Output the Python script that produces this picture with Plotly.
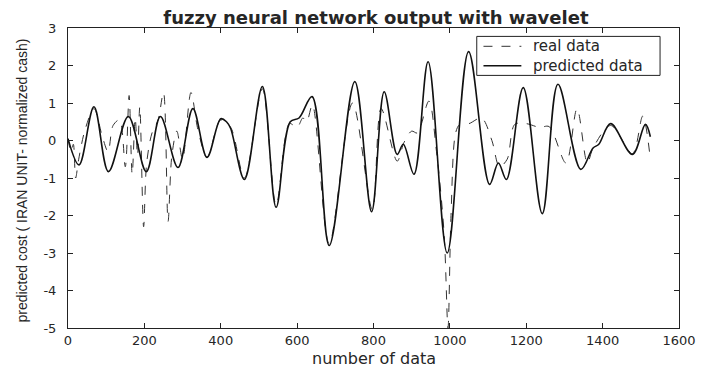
import plotly.graph_objects as go

# ---- data (key points) ----
pred_x = [0, 29, 68, 106, 158, 205, 242, 288, 327, 364, 400, 415, 426, 462, 509, 545,
          582, 605, 639, 684, 751, 795, 828, 862, 878, 906, 943, 993, 1049, 1104, 1127,
          1148, 1192, 1242, 1283, 1343, 1375, 1390, 1421, 1478, 1512, 1525]
pred_y = [0.05, -0.65, 0.9, -0.83, 0.64, -0.83, 0.64, -0.72, 0.85, -0.45, 0.58, 0.5, 0.32,
          -1.04, 1.44, -1.78, 0.5, 0.6, 1.17, -2.8, 1.57, -1.9, 1.3, -0.37, -0.1, -0.9, 2.1,
          -3.0, 2.37, -1.17, -0.6, -1.04, 1.41, -1.95, 1.5, -0.77, -0.2, -0.1, 0.45, -0.37,
          0.43, 0.1]

real_x = [0, 8, 14, 20, 28, 45, 68, 90, 105, 118, 135, 150, 160, 168, 176, 182, 188, 198,
          206, 220, 236, 250, 262, 272, 285, 300, 322, 340, 364, 400, 426, 462, 509, 545,
          580, 600, 615, 625, 640, 684, 745, 797, 820, 862, 880, 900, 915, 945, 965, 985,
          995, 1003, 1015, 1026, 1050, 1083, 1110, 1130, 1150, 1170, 1200, 1235, 1260, 1304,
          1333, 1360, 1375, 1421, 1478, 1505, 1525]
real_y = [0.05, -0.3, -0.1, -1.0, -0.5, 0.3, 0.85, 0.1, -0.3, 0.4, 0.55, -0.7, 1.2, -0.9,
          0.6, -0.4, 0.9, -2.3, -0.6, 0.2, 0.55, 1.28, -2.16, -0.4, 0.25, -0.5, 1.28, 0.3,
          -0.45, 0.55, 0.35, -1.0, 1.38, -1.72, 0.45, 0.35, 0.6, 0.5, 0.95, -2.75, 1.0, -1.85,
          0.85, -0.55, -0.05, 0.25, 0.2, 1.05, -0.3, -2.5, -5.0, -2.0, 0.2, 0.43, 0.45, 0.6,
          0.0, -0.7, -0.5, 0.43, 0.45, 0.35, 0.37, -0.6, 0.85, -0.6, -0.2, 0.4, -0.35, 0.65,
          -0.5]

x_ticks = [0, 200, 400, 600, 800, 1000, 1200, 1400, 1600]
y_ticks = [-5, -4, -3, -2, -1, 0, 1, 2, 3]

series_names = ["real data", "predicted data"]
title_text = "fuzzy neural network output with wavelet"
x_title = "number of data"
y_title = "predicted cost ( IRAN UNIT- normalized cash)"

real_line = dict(color="#333333", width=1, dash="dash")
pred_line = dict(color="#111111", width=1.6)

fig = go.Figure()
fig.add_trace(go.Scatter(
    x=real_x, y=real_y, mode="lines", name=series_names[0],
    line=dict(**real_line, shape="spline", smoothing=0.9)))
fig.add_trace(go.Scatter(
    x=pred_x, y=pred_y, mode="lines", name=series_names[1],
    line=dict(**pred_line, shape="spline", smoothing=1.0)))

axis_common = dict(
    showgrid=False, zeroline=False, showline=True, linecolor="#222222", linewidth=1,
    mirror="ticks", ticks="inside", ticklen=5, tickcolor="#222222",
    tickfont=dict(family="DejaVu Sans", size=13, color="#262626"))

fig.update_xaxes(range=[0, 1600], tickvals=x_ticks, ticktext=[str(v) for v in x_ticks],
                 ticklabelstandoff=0, **axis_common)
fig.update_yaxes(range=[-5, 3], tickvals=y_ticks, ticktext=[str(v) for v in y_ticks],
                 ticklabelstandoff=8, **axis_common)

# legend box drawn in the MATLAB style (compact box, top right)
lg_x0, lg_x1, lg_y0, lg_y1 = 0.669, 0.969, 0.842, 0.972
row_y = [0.939, 0.874]
shapes = [dict(type="rect", xref="paper", yref="paper", x0=lg_x0, x1=lg_x1,
               y0=lg_y0, y1=lg_y1, line=dict(color="#222222", width=1),
               fillcolor="white", layer="above")]
annotations = []
for ry, nm, ln in zip(row_y, series_names, [real_line, pred_line]):
    shapes.append(dict(type="line", xref="paper", yref="paper", x0=0.680, x1=0.742,
                       y0=ry, y1=ry, line=ln, layer="above"))
    annotations.append(dict(text=nm, xref="paper", yref="paper", x=0.757, y=ry,
                            xanchor="left", yanchor="middle", showarrow=False,
                            font=dict(family="DejaVu Sans", size=15, color="#262626")))

annotations += [
    dict(text=x_title, xref="paper", yref="paper", x=0.5, y=-0.1,
         xanchor="center", yanchor="middle", showarrow=False,
         font=dict(family="DejaVu Sans", size=16, color="#262626")),
    dict(text=y_title, xref="paper", yref="paper", x=-0.076, y=0.49,
         xanchor="center", yanchor="middle", showarrow=False, textangle=-90,
         font=dict(family="Liberation Sans", size=14, color="#262626")),
]

fig.update_layout(
    width=708, height=367,
    margin=dict(l=68, r=24, t=28, b=39),
    paper_bgcolor="white", plot_bgcolor="white",
    title=dict(text="<b>" + title_text + "</b>", x=0.531, xanchor="center",
               y=0.953, yanchor="middle", yref="container",
               font=dict(family="DejaVu Sans", size=18, color="#262626")),
    showlegend=False,
    shapes=shapes,
    annotations=annotations,
)

fig.write_html("out.html", config={"displayModeBar": False},
               post_script="document.body.style.margin='0';"
                           "document.body.style.overflow='hidden';")
